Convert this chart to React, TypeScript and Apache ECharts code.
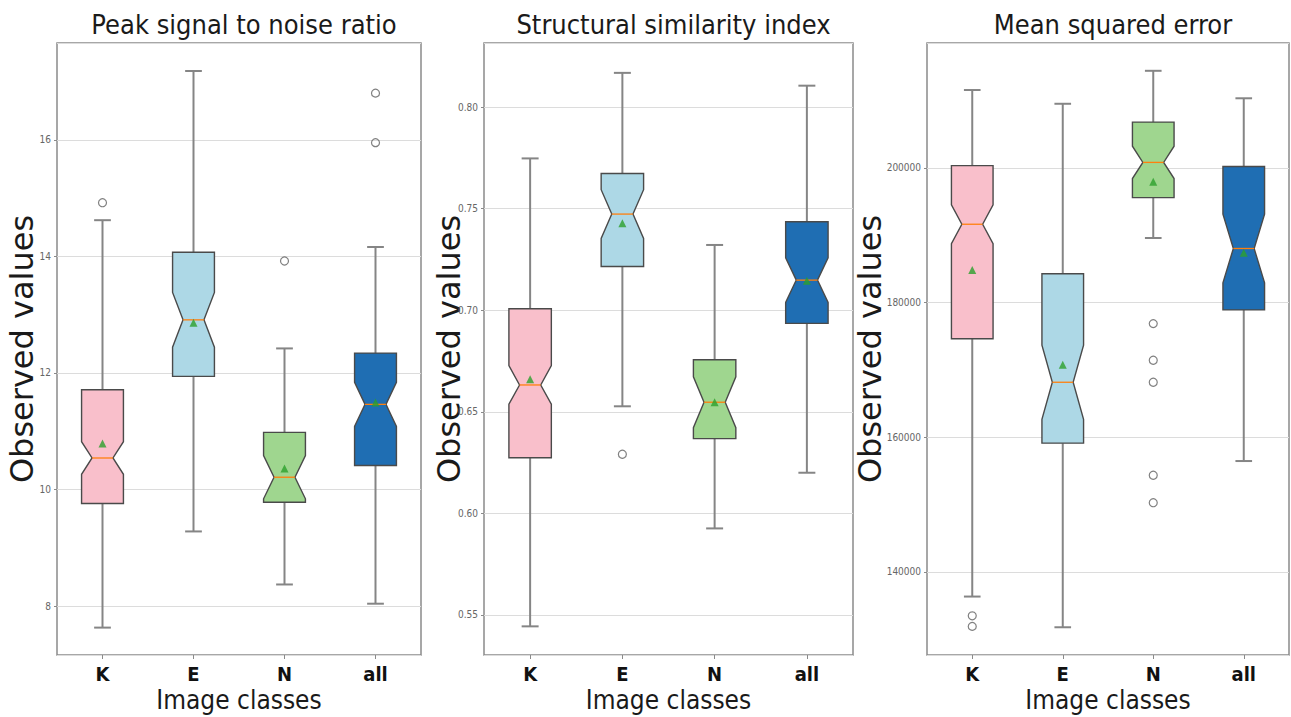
import React, { useEffect, useRef } from "react";
import * as echarts from "echarts";

const categories = ["K", "E", "N", "all"];

// Peak signal to noise ratio
const psnrLow = [7.63, 9.28, 8.37, 8.04];
const psnrQ1 = [9.76, 11.94, 9.78, 10.41];
const psnrMedian = [10.54, 12.91, 10.21, 11.46];
const psnrQ3 = [11.71, 14.07, 10.98, 12.34];
const psnrHigh = [14.62, 17.18, 12.42, 14.16];
const psnrMean = [10.79, 12.86, 10.36, 11.49];
const psnrNotch = [0.28, 0.47, 0.37, 0.38];
const psnrOutliers = [[0, 14.92], [2, 13.92], [3, 16.8], [3, 15.95]];

// Structural similarity index
const ssimLow = [0.5444, 0.6527, 0.5926, 0.62];
const ssimQ1 = [0.6274, 0.7215, 0.6368, 0.6935];
const ssimMedian = [0.6632, 0.7473, 0.6547, 0.7148];
const ssimQ3 = [0.7007, 0.7673, 0.6756, 0.7435];
const ssimHigh = [0.7747, 0.8168, 0.7321, 0.8105];
const ssimMean = [0.666, 0.7428, 0.6547, 0.7145];
const ssimNotch = [0.0095, 0.012, 0.0125, 0.011];
const ssimOutliers = [[1, 0.6291]];

// Mean squared error
const mseLow = [136330, 131770, 189590, 156460];
const mseQ1 = [174625, 159115, 195580, 178910];
const mseMedian = [191630, 168160, 200816, 188030];
const mseQ3 = [200340, 184285, 206800, 200200];
const mseHigh = [211565, 209524, 214420, 210340];
const mseMean = [184830, 170750, 197960, 187400];
const mseNotch = [2900, 5500, 2400, 5100];
const mseOutliers = [
  [0, 133470], [0, 131900],
  [2, 176870], [2, 171430], [2, 168160], [2, 154350], [2, 150270],
];

const titles = ["Peak signal to noise ratio", "Structural similarity index", "Mean squared error"];
const yRanges = [
  [7.16, 17.66],
  [0.5303, 0.8315],
  [127650, 218550],
];
const ySplits = [5, 6, 5];

const boxColors = ["#f9bfcb", "#add8e6", "#9fd68f", "#1f6eb3"];

const FONT = "'DejaVu Sans Condensed', 'DejaVu Sans', sans-serif";

function buildBoxData(low, q1, med, q3, high, notch) {
  return categories.map((_, i) => [i, low[i], q1[i], med[i] - notch[i], med[i], med[i] + notch[i], q3[i], high[i]]);
}

function renderBox(params, api) {
  const x = api.value(0);
  const pLow = api.coord([x, api.value(1)]);
  const pQ1 = api.coord([x, api.value(2)]);
  const pNLo = api.coord([x, api.value(3)]);
  const pMed = api.coord([x, api.value(4)]);
  const pNHi = api.coord([x, api.value(5)]);
  const pQ3 = api.coord([x, api.value(6)]);
  const pHigh = api.coord([x, api.value(7)]);
  const band = api.size([1, 0])[0];
  const w = band * 0.46;
  const cx = pMed[0];
  const L = cx - w / 2;
  const R = cx + w / 2;
  const ind = w / 4;
  const cap = w * 0.4;
  const whisk = { stroke: "#858585", lineWidth: 2 };
  const color = boxColors[params.dataIndex];
  return {
    type: "group",
    children: [
      { type: "line", shape: { x1: cx, y1: pHigh[1], x2: cx, y2: pQ3[1] }, style: whisk },
      { type: "line", shape: { x1: cx, y1: pQ1[1], x2: cx, y2: pLow[1] }, style: whisk },
      { type: "line", shape: { x1: cx - cap / 2, y1: pHigh[1], x2: cx + cap / 2, y2: pHigh[1] }, style: whisk },
      { type: "line", shape: { x1: cx - cap / 2, y1: pLow[1], x2: cx + cap / 2, y2: pLow[1] }, style: whisk },
      {
        type: "polygon",
        shape: {
          points: [
            [L, pQ3[1]], [R, pQ3[1]], [R, pNHi[1]], [R - ind, pMed[1]], [R, pNLo[1]],
            [R, pQ1[1]], [L, pQ1[1]], [L, pNLo[1]], [L + ind, pMed[1]], [L, pNHi[1]],
          ],
        },
        style: { fill: color, stroke: "#4a4a4a", lineWidth: 1.4 },
      },
      {
        type: "line",
        shape: { x1: L + ind, y1: pMed[1], x2: R - ind, y2: pMed[1] },
        style: { stroke: "#ff7f0e", lineWidth: 1.3 },
      },
    ],
  };
}

export default function App() {
  const ref = useRef(null);
  useEffect(() => {
    const chart = echarts.init(ref.current, null, { renderer: "svg" });
    const grids = [
      { left: 57, width: 364, top: 43, height: 612 },
      { left: 484, width: 369, top: 43, height: 612 },
      { left: 927, width: 362, top: 43, height: 612 },
    ];
    const formatters = [
      (v) => String(Math.round(v)),
      (v) => v.toFixed(2),
      (v) => String(Math.round(v)),
    ];
    const boxSets = [
      buildBoxData(psnrLow, psnrQ1, psnrMedian, psnrQ3, psnrHigh, psnrNotch),
      buildBoxData(ssimLow, ssimQ1, ssimMedian, ssimQ3, ssimHigh, ssimNotch),
      buildBoxData(mseLow, mseQ1, mseMedian, mseQ3, mseHigh, mseNotch),
    ];
    const means = [psnrMean, ssimMean, mseMean];
    const outliers = [psnrOutliers, ssimOutliers, mseOutliers];

    const series = [];
    [0, 1, 2].forEach((g) => {
      series.push({
        type: "custom",
        xAxisIndex: g,
        yAxisIndex: g,
        renderItem: renderBox,
        data: boxSets[g],
        encode: { x: 0, y: [1, 2, 3, 4, 5, 6, 7] },
        z: 2,
      });
      series.push({
        type: "scatter",
        xAxisIndex: g,
        yAxisIndex: g,
        symbol: "circle",
        symbolSize: 8,
        itemStyle: { color: "rgba(255,255,255,0)", borderColor: "#606060", borderWidth: 1.2 },
        data: outliers[g],
        z: 3,
      });
      series.push({
        type: "scatter",
        xAxisIndex: g,
        yAxisIndex: g,
        symbol: "triangle",
        symbolSize: 8,
        itemStyle: { color: "#2ca02c" },
        data: means[g].map((m, i) => [i, m]),
        z: 4,
      });
    });

    chart.setOption({
      animation: false,
      backgroundColor: "#ffffff",
      title: titles.map((t, i) => ({
        text: t,
        left: grids[i].left + grids[i].width / 2,
        top: 6,
        textAlign: "center",
        textStyle: { fontFamily: FONT, fontSize: 27, fontWeight: "normal", color: "#1a1a1a" },
      })),
      grid: grids.map((g) => ({
        ...g,
        outerBoundsMode: "none",
        containLabel: false,
        show: true,
        borderColor: "#8a8a8a",
        borderWidth: 1.5,
        backgroundColor: "transparent",
      })),
      xAxis: grids.map((_, i) => ({
        type: "category",
        gridIndex: i,
        data: categories,
        boundaryGap: true,
        axisLine: { show: false },
        axisTick: { show: true, alignWithLabel: true, length: 4, lineStyle: { color: "#8a8a8a" } },
        axisLabel: { fontFamily: FONT, fontSize: 20, fontWeight: "bold", color: "#111", margin: 9 },
        splitLine: { show: false },
        name: "Image classes",
        nameLocation: "middle",
        nameGap: 32,
        nameMoveOverlap: false,
        nameTextStyle: { fontFamily: FONT, fontSize: 26, color: "#1a1a1a" },
      })),
      yAxis: grids.map((_, i) => ({
        type: "value",
        gridIndex: i,
        min: yRanges[i][0],
        max: yRanges[i][1],
        splitNumber: ySplits[i],
        axisLine: { show: false },
        axisTick: { show: true, length: 3, lineStyle: { color: "#8a8a8a" } },
        axisLabel: {
          fontFamily: FONT,
          fontSize: 10,
          color: "#666",
          margin: 6,
          showMinLabel: false,
          showMaxLabel: false,
          formatter: formatters[i],
        },
        splitLine: { show: true, lineStyle: { color: "#dcdcdc", width: 1.2 } },
        name: "Observed values",
        nameLocation: "middle",
        nameGap: i === 2 ? 41 : 19,
        nameMoveOverlap: false,
        nameTextStyle: { fontFamily: "'DejaVu Sans', sans-serif", fontSize: 32, color: "#1a1a1a" },
      })),
      series,
    });
    return () => chart.dispose();
  }, []);
  return (
    <div
      ref={ref}
      style={{ position: "absolute", left: 0, top: 0, width: 1291, height: 717, background: "#fff" }}
    />
  );
}
